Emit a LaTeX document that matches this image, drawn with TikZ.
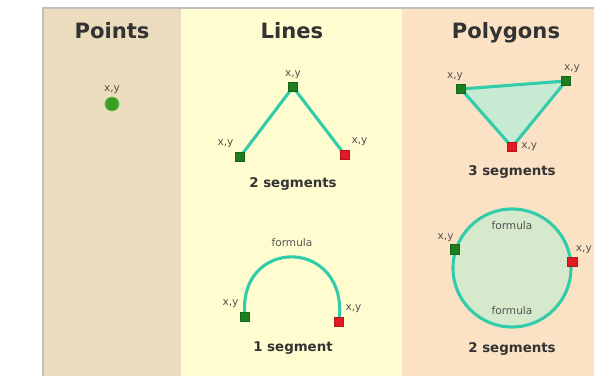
\documentclass[tikz,border=0pt]{standalone}
\usepackage{fontspec}
\setmainfont{DejaVu Sans}
\usetikzlibrary{positioning,backgrounds}
\definecolor{ptbg}{HTML}{EADCBC}
\definecolor{lnbg}{HTML}{FFFDCF}
\definecolor{pgbg}{HTML}{FCE2C4}
\definecolor{seg}{HTML}{33CCAA}
\definecolor{vgreen}{HTML}{1E7D1E}
\definecolor{vred}{HTML}{E01B24}
\definecolor{dotgreen}{HTML}{3A9E22}
\definecolor{trifill}{HTML}{C6EBD2}
\definecolor{circfill}{HTML}{D6E9CD}
\definecolor{txt}{HTML}{333333}

\begin{document}
\begin{tikzpicture}[x=0.025cm,y=0.025cm,
      every node/.style={font=\fontsize{7.5}{9}\selectfont,text=txt!85},
      title/.style={font=\bfseries\fontsize{15}{18}\selectfont,text=txt,anchor=base},
      segcap/.style={font=\bfseries\fontsize{9.5}{11}\selectfont,text=txt},
      lbl/.style={inner sep=1pt},
      gvert/.style={draw=vgreen!80!black,fill=vgreen,minimum size=6.5pt,inner sep=0pt},
      rvert/.style={draw=vred!80!black,fill=vred,minimum size=6.5pt,inner sep=0pt},
      segline/.style={draw=seg,line width=2.2pt}]
    \useasboundingbox (0,0) rectangle (594,376);
    % Column titles
    \node[title] (tpts) at (112,337) {Points};
    \node[title] (tlns) at (292,337) {Lines};
    \node[title] (tpol) at (506,337) {Polygons};
    % Points: one dot
    \node[circle,fill=dotgreen,draw=dotgreen!70!white,minimum size=10pt,inner sep=0pt] (pt) at (112,272) {};
    \node[lbl,above=1pt of pt] (ptlbl) {x,y};
    % Lines: two segments
    \node[gvert] (la) at (240,219) {};
    \node[gvert] (lb) at (293,289) {};
    \node[rvert] (lc) at (345,221) {};
    \node[lbl,above=1pt of lb] (lblb) {x,y};
    \node[lbl,above left=2pt and 0pt of la] (lbla) {x,y};
    \node[lbl,above right=2pt and 0pt of lc] (lblc) {x,y};
    \node[segcap] (cap2) at (293,192) {2 segments};
    % Lines: one curved segment
    \node[gvert] (aa) at (245,59) {};
    \node[rvert] (ab) at (339,54) {};
    \node (aform) at (292,133) {formula};
    \node[lbl,above left=2pt and 0pt of aa] (lblaa) {x,y};
    \node[lbl,above right=2pt and 0pt of ab] (lblab) {x,y};
    \node[segcap] (cap1) at (293,28) {1 segment};
    % Polygons: triangle
    \node[gvert] (pa) at (461,287) {};
    \node[gvert] (pb) at (566,295) {};
    \node[rvert] (pc) at (512,229) {};
    \node[lbl,above left=1pt and -6pt of pa] (lblpa) {x,y};
    \node[lbl,above right=1pt and -6pt of pb] (lblpb) {x,y};
    \node[lbl,right=2pt of pc] (lblpc) {x,y};
    \node[segcap] (cap3) at (512,204) {3 segments};
    % Polygons: circle
    \node[circle,draw=seg,line width=2.2pt,fill=circfill,minimum size=2.95cm] (pcirc) at (512,108) {};
    \node[gvert] (ca) at (pcirc.162) {};
    \node[rvert] (cb) at (pcirc.6) {};
    \node (cform1) at (512,150) {formula};
    \node (cform2) at (512,65) {formula};
    \node[lbl,above left=1pt and -4pt of ca] (lblca) {x,y};
    \node[lbl,above right=1pt and -2pt of cb] (lblcb) {x,y};
    \node[segcap] (cap4) at (512,27) {2 segments};
    \begin{scope}[on background layer]
      % column backgrounds
      \fill[ptbg] (43,0) rectangle (181,368);
      \fill[lnbg] (181,0) rectangle (402,368);
      \fill[pgbg] (402,0) rectangle (594,368);
      \draw[black!25,line width=0.8pt] (43,0) -- (43,368) -- (594,368);
      % segments
      \draw[segline] (la.center) -- (lb.center) -- (lc.center);
      \draw[segline] (aa.center) .. controls (236,140) and (350,140) .. (ab.center);
      \draw[segline,fill=trifill] (pa.center) -- (pb.center) -- (pc.center) -- cycle;
    \end{scope}
  \end{tikzpicture}
\end{document}
